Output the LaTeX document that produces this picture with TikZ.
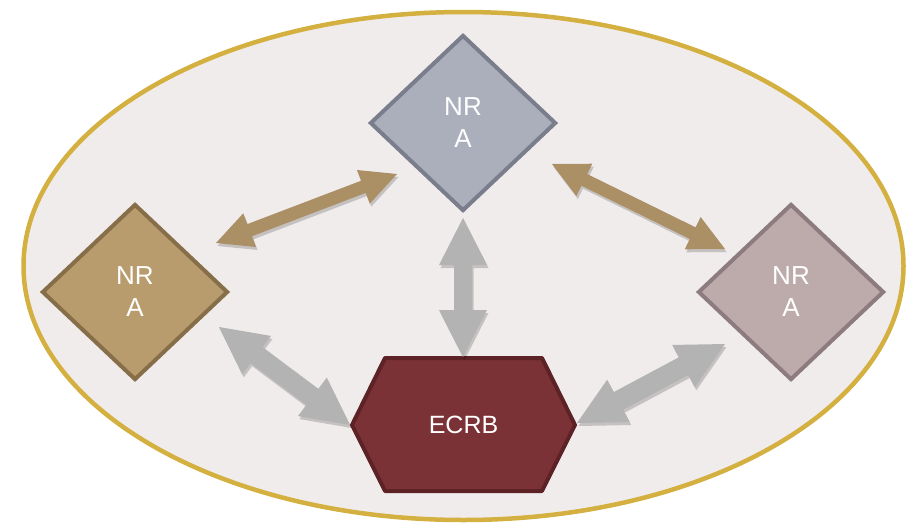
\documentclass[tikz,border=0pt]{standalone}
\usepackage{fontspec}
\setmainfont{Liberation Sans}
\usetikzlibrary{shapes.geometric,calc}
\definecolor{bgfill}{HTML}{F1ECEC}
\definecolor{bgline}{HTML}{D3B040}
\definecolor{tanarr}{HTML}{AB8F65}
\definecolor{grayarr}{HTML}{B3B3B3}
\definecolor{topfill}{HTML}{ABAFBC}
\definecolor{topline}{HTML}{7A7D8C}
\definecolor{leftfill}{HTML}{B99C6E}
\definecolor{leftline}{HTML}{866F48}
\definecolor{rightfill}{HTML}{BDABAC}
\definecolor{rightline}{HTML}{8D7C7F}
\definecolor{hexfill}{HTML}{7B3236}
\definecolor{hexline}{HTML}{5C2225}
\newcommand{\blockarr}[6]{%
  \coordinate (ba1) at ($(#2)!#5!(#3)$);
  \coordinate (ba2) at ($(#3)!#5!(#2)$);
  \fill[black,opacity=0.18,transform canvas={xshift=1.5pt,yshift=-3pt}] (#2) -- ($(ba1)!#6!90:(#3)$) -- ($(ba1)!#4!90:(#3)$) -- ($(ba2)!#4!-90:(#2)$) -- ($(ba2)!#6!-90:(#2)$) -- (#3) -- ($(ba2)!#6!90:(#2)$) -- ($(ba2)!#4!90:(#2)$) -- ($(ba1)!#4!-90:(#3)$) -- ($(ba1)!#6!-90:(#3)$) -- cycle;
  \fill[#1] (#2) -- ($(ba1)!#6!90:(#3)$) -- ($(ba1)!#4!90:(#3)$) -- ($(ba2)!#4!-90:(#2)$) -- ($(ba2)!#6!-90:(#2)$) -- (#3) -- ($(ba2)!#6!90:(#2)$) -- ($(ba2)!#4!90:(#2)$) -- ($(ba1)!#4!-90:(#3)$) -- ($(ba1)!#6!-90:(#3)$) -- cycle;
}
\begin{document}
\begin{tikzpicture}[x=1pt,y=-1pt,
  nra/.style={diamond,draw,line width=4pt,minimum width=186pt,minimum height=176pt,inner sep=0pt,
    text=white,align=center,font=\fontsize{26}{32}\selectfont},
  bgell/.style={ellipse,draw=bgline,fill=bgfill,line width=4.5pt,minimum width=880pt,minimum height=508pt,inner sep=0pt}]
\useasboundingbox (0,0) rectangle (908,528);
\node[bgell] (bg) at (463.5,266) {};
% diamonds
\node[nra,fill=topfill,draw=topline] (top) at (463,123) {NR\\A};
\node[nra,fill=leftfill,draw=leftline] (left) at (135,292) {NR\\A};
\node[nra,fill=rightfill,draw=rightline] (right) at (791,292) {NR\\A};
% hexagon
\coordinate (ecrb) at (463.5,425);
\coordinate (h1) at (352,425);
\coordinate (h2) at (385,358);
\coordinate (h3) at (542,358);
\coordinate (h4) at (575,425);
\coordinate (h5) at (542,491);
\coordinate (h6) at (385,491);
\fill[hexfill] (h1) -- (h2) -- (h3) -- (h4) -- (h5) -- (h6) -- cycle;
\draw[hexline,line width=4pt,line join=round] (h1) -- (h2) -- (h3) -- (h4) -- (h5) -- (h6) -- cycle;
\node[text=white,font=\fontsize{25}{30}\selectfont] (ecrbtext) at (ecrb) {ECRB};
% arrow ends
\coordinate (t1a) at (216,243);
\coordinate (t1b) at (397,174);
\coordinate (t2a) at (552,164);
\coordinate (t2b) at (725,249);
\coordinate (g1a) at (463,218);
\coordinate (g1b) at (463,357);
\coordinate (g2a) at (219,327);
\coordinate (g2b) at (350,425);
\coordinate (g3a) at (577,423);
\coordinate (g3b) at (725,344);
\blockarr{tanarr}{t1a}{t1b}{6.5pt}{36pt}{18pt}
\blockarr{tanarr}{t2a}{t2b}{6.5pt}{36pt}{18pt}
\blockarr{grayarr}{g1a}{g1b}{9pt}{47pt}{24pt}
\blockarr{grayarr}{g2a}{g2b}{10pt}{47pt}{24pt}
\blockarr{grayarr}{g3a}{g3b}{10pt}{47pt}{24pt}
\end{tikzpicture}
\end{document}
